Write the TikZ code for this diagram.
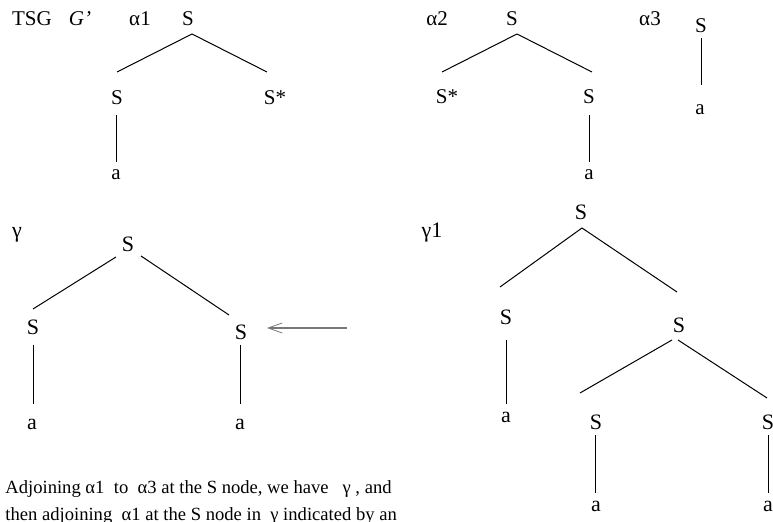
\documentclass[tikz,border=0pt]{standalone}
\usepackage{fontspec}
\setmainfont{Liberation Serif}
\usepackage{tikz}
\usetikzlibrary{arrows.meta}
\definecolor{arrowgray}{RGB}{120,120,120}

\begin{document}
\begin{tikzpicture}[x=0.5pt,y=-0.5pt,
    lbl/.style={anchor=base,inner sep=0pt,font=\fontsize{10.5}{12}\selectfont},
    big/.style={lbl,font=\fontsize{11}{13}\selectfont},
    txt/.style={anchor=base west,inner sep=0pt,font=\fontsize{9.3}{12}\selectfont},
    branch/.style={line width=0.5pt},
    adjarrow/.style={draw=arrowgray,line width=0.8pt,-{Straight Barb[length=7pt,width=5pt,line width=0.4pt]}}]
\useasboundingbox (0,0) rectangle (773,522);
\clip (0,0) rectangle (773,522);

% grammar
\node[lbl] (tsg) at (32,26) {TSG};
\node[lbl] (gp) at (80,26) {\textit{G’}};

% alpha1
\node[lbl] (a1) at (140,26) {α1};
\node[lbl] (a1r) at (188,26) {S};
\node[lbl] (a1s) at (117,105) {S};
\node[lbl] (a1f) at (275,105) {S*};
\node[lbl] (a1a) at (116,180) {a};
\draw[branch] ([shift={(4,8)}]a1r.base) -- ([shift={(0,-33)}]a1s.base);
\draw[branch] ([shift={(4,8)}]a1r.base) -- ([shift={(-8,-33)}]a1f.base);
\draw[branch] ([shift={(-1,10)}]a1s.base) -- ([shift={(0,-18)}]a1a.base);

% alpha2
\node[lbl] (a2) at (437,26) {α2};
\node[lbl] (a2r) at (512,26) {S};
\node[lbl] (a2f) at (447,104) {S*};
\node[lbl] (a2s) at (589,104) {S};
\node[lbl] (a2a) at (589,180) {a};
\draw[branch] ([shift={(5,8)}]a2r.base) -- ([shift={(-5,-32)}]a2f.base);
\draw[branch] ([shift={(5,8)}]a2r.base) -- ([shift={(3,-32)}]a2s.base);
\draw[branch] ([shift={(0,11)}]a2s.base) -- ([shift={(0,-18)}]a2a.base);

% alpha3
\node[lbl] (a3) at (650,26) {α3};
\node[lbl] (a3r) at (701,33) {S};
\node[lbl] (a3a) at (700,115) {a};
\draw[branch] ([shift={(0,5)}]a3r.base) -- ([shift={(1,-30)}]a3a.base);

% gamma
\node[big] (g) at (17,238) {γ};
\node[big] (gr) at (128,252) {S};
\node[big] (gs1) at (33,335) {S};
\node[big] (gs2) at (241,340) {S};
\node[big] (ga1) at (32,430) {a};
\node[big] (ga2) at (240,430) {a};
\draw[branch] ([shift={(-12,5)}]gr.base) -- ([shift={(0,-26)}]gs1.base);
\draw[branch] ([shift={(13,4)}]gr.base) -- ([shift={(-12,-25)}]gs2.base);
\draw[branch] ([shift={(0,10)}]gs1.base) -- ([shift={(1,-26)}]ga1.base);
\draw[branch] ([shift={(-1,5)}]gs2.base) -- ([shift={(0,-26)}]ga2.base);
\coordinate (adj) at (347,328);
\draw[adjarrow] (adj) -- ([shift={(26,-12)}]gs2.base);

% gamma1
\node[big] (g1) at (432,238) {γ1};
\node[big] (hr) at (581,220) {S};
\node[big] (hs1) at (506,325) {S};
\node[big] (hs2) at (679,333) {S};
\node[big] (ha1) at (506,423) {a};
\node[big] (hs3) at (596,430) {S};
\node[big] (hs4) at (768,430) {S};
\node[big] (ha3) at (596,512) {a};
\node[big] (ha4) at (768,512) {a};
\draw[branch] ([shift={(1,8)}]hr.base) -- ([shift={(-6,-38)}]hs1.base);
\draw[branch] ([shift={(1,8)}]hr.base) -- ([shift={(-2,-41)}]hs2.base);
\draw[branch] ([shift={(0,15)}]hs1.base) -- ([shift={(0,-19)}]ha1.base);
\draw[branch] ([shift={(-7,7)}]hs2.base) -- ([shift={(-16,-37)}]hs3.base);
\draw[branch] ([shift={(-1,7)}]hs2.base) -- ([shift={(-1,-32)}]hs4.base);
\draw[branch] ([shift={(-1,5)}]hs3.base) -- ([shift={(-1,-19)}]ha3.base);
\draw[branch] ([shift={(0,5)}]hs4.base) -- ([shift={(0,-19)}]ha4.base);

% caption
\node[txt] (note1) at (5,494) {Adjoining α1~ to~ α3 at the S node, we have~~ γ , and};
\node[txt] (note2) at (5,521) {then adjoining~ α1 at the S node in~ γ indicated by an};
\end{tikzpicture}
\end{document}
